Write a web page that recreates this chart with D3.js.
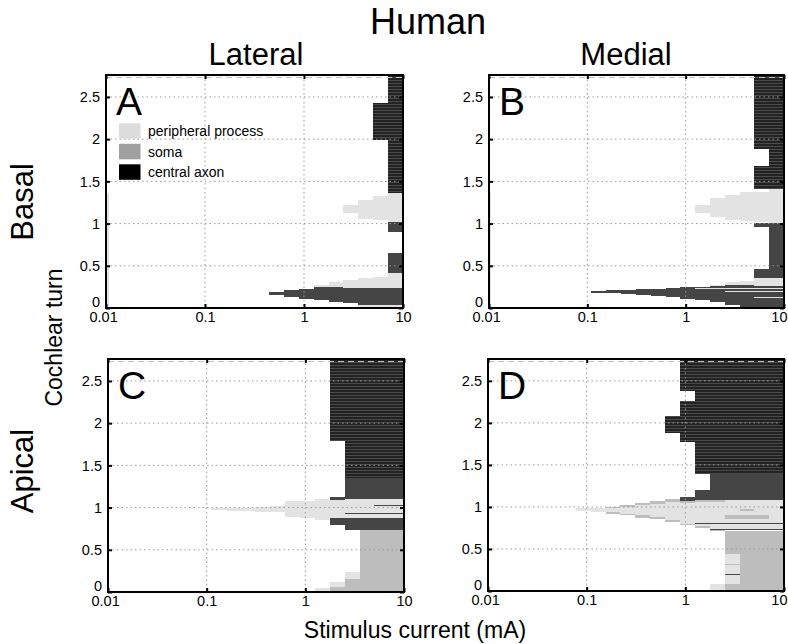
<!DOCTYPE html>
<html><head><meta charset="utf-8">
<script src="https://cdn.jsdelivr.net/npm/d3@7"></script>
<style>body{margin:0;background:#fff} svg{display:block} text{font-family:"Liberation Sans",Arial,Helvetica,sans-serif;fill:#000}</style>
</head><body><svg id="c" width="788" height="644"></svg>
<script>
// ---- data ----
const xTicks = [0.01, 0.1, 1, 10];
const yTicks = [0, 0.5, 1, 1.5, 2, 2.5];
const yMax = 2.76;
const legendLabels = ["peripheral process", "soma", "central axon"];
const legendSites = ["P", "S", "K0"];
const panelLetters = ["A", "B", "C", "D"];
// regions: [site, current from (mA), current to (mA), turn from, turn to]
// P = peripheral process, S = soma, A = central axon, K = central axon (dense)
const panelA = [
  ["K", 7.07, 10, 1.357, 2.76],
  ["K", 5, 7.07, 1.99, 2.43],
  ["P", 7.07, 10, 1.02, 1.357],
  ["P", 5, 7.07, 1.04, 1.33],
  ["P", 3.54, 5, 1.06, 1.28],
  ["P", 2.5, 3.54, 1.12, 1.22],
  ["A", 7.07, 10, 0.90, 1.02],
  ["A", 7.07, 10, 0.41, 0.65],
  ["P", 7.07, 10, 0.23, 0.41],
  ["P", 5, 7.07, 0.23, 0.363],
  ["P", 3.54, 5, 0.233, 0.351],
  ["P", 2.5, 3.54, 0.233, 0.331],
  ["P", 1.77, 2.5, 0.24, 0.304],
  ["P", 1.25, 1.77, 0.245, 0.272],
  ["A", 0.44, 0.625, 0.154, 0.193],
  ["A", 0.625, 0.88, 0.134, 0.213],
  ["A", 0.88, 1.25, 0.106, 0.225],
  ["A", 1.25, 1.77, 0.095, 0.245],
  ["A", 1.77, 2.5, 0.067, 0.245],
  ["A", 2.5, 3.54, 0.055, 0.233],
  ["A", 3.54, 10, 0.035, 0.233],
  ["P", 3.54, 10, 0.008, 0.035],
  ["A", 5, 10, 0, 0.01],
  ["P", 0.01, 3.54, 0, 0.012],
  ["P", 0.01, 0.0106, 0, 1.36]
];
const panelB = [
  ["K", 5, 10, 1.882, 2.76],
  ["K", 7.07, 10, 1.684, 1.882],
  ["K", 5, 10, 1.408, 1.684],
  ["P", 7.07, 10, 1.002, 1.408],
  ["P", 5, 7.07, 1.021, 1.377],
  ["P", 3.54, 5, 1.033, 1.369],
  ["P", 2.5, 3.54, 1.041, 1.337],
  ["P", 1.77, 2.5, 1.081, 1.298],
  ["P", 1.25, 1.77, 1.12, 1.219],
  ["A", 5, 7.07, 0.962, 1.002],
  ["A", 7.07, 10, 0.462, 1.002],
  ["A", 5, 10, 0.351, 0.462],
  ["P", 7.07, 10, 0.26, 0.351],
  ["P", 5, 7.07, 0.26, 0.351],
  ["P", 3.54, 5, 0.27, 0.323],
  ["P", 2.5, 3.54, 0.272, 0.304],
  ["P", 1.77, 2.5, 0.26, 0.272],
  ["A", 0.11, 0.156, 0.181, 0.205],
  ["A", 0.156, 0.22, 0.174, 0.213],
  ["A", 0.22, 0.31, 0.166, 0.217],
  ["A", 0.31, 0.44, 0.154, 0.221],
  ["A", 0.44, 0.625, 0.142, 0.225],
  ["A", 0.625, 0.88, 0.126, 0.233],
  ["A", 0.88, 1.25, 0.110, 0.245],
  ["A", 1.25, 1.77, 0.095, 0.252],
  ["A", 1.77, 2.5, 0.067, 0.260],
  ["A", 2.5, 3.54, 0.035, 0.272],
  ["A", 3.54, 5, 0.008, 0.27],
  ["A", 5, 10, 0.008, 0.26],
  ["P", 1.25, 10, 0.225, 0.232],
  ["P", 2.5, 10, 0.19, 0.197],
  ["P", 5, 10, 0.12, 0.127],
  ["P", 0.01, 5, 0, 0.012],
  ["A", 5, 10, 0, 0.012],
  ["P", 0.01, 0.0106, 0, 1.38]
];
const panelC = [
  ["K", 1.77, 10, 1.791, 2.76],
  ["K", 2.5, 10, 1.35, 1.791],
  ["A", 2.5, 10, 1.103, 1.35],
  ["A", 1.77, 2.5, 1.091, 1.131],
  ["P", 2.5, 10, 0.874, 1.103],
  ["A", 5, 10, 1.028, 1.034],
  ["A", 2.5, 10, 0.930, 0.936],
  ["A", 2.5, 10, 0.735, 0.874],
  ["A", 1.77, 2.5, 0.795, 0.874],
  ["P", 1.77, 2.5, 0.874, 1.091],
  ["P", 0.11, 0.156, 0.971, 0.991],
  ["P", 0.156, 0.22, 0.965, 0.998],
  ["P", 0.22, 0.31, 0.961, 1.0],
  ["P", 0.31, 0.44, 0.953, 1.012],
  ["P", 0.44, 0.625, 0.945, 1.024],
  ["P", 0.625, 0.88, 0.893, 1.079],
  ["P", 0.88, 1.25, 0.882, 1.083],
  ["P", 1.25, 1.77, 0.854, 1.099],
  ["S", 3.54, 10, 0, 0.735],
  ["P", 2.5, 3.54, 0.15, 0.241],
  ["S", 2.5, 3.54, 0, 0.15],
  ["P", 1.77, 2.5, 0.063, 0.122],
  ["S", 1.77, 2.5, 0, 0.063],
  ["P", 1.25, 1.77, 0, 0.044],
  ["P", 0.01, 1.25, 0, 0.012]
];
const panelD = [
  ["K", 0.88, 10, 2.384, 2.76],
  ["K", 1.25, 10, 2.266, 2.384],
  ["K", 0.88, 10, 2.080, 2.266],
  ["K", 0.625, 10, 1.882, 2.080],
  ["K", 0.88, 10, 1.775, 1.882],
  ["K", 1.25, 10, 1.388, 1.775],
  ["A", 1.77, 10, 1.07, 1.388],
  ["A", 1.25, 1.77, 1.079, 1.198],
  ["A", 0.88, 1.25, 1.071, 1.119],
  ["P", 0.078, 0.11, 0.953, 0.985],
  ["P", 0.11, 0.156, 0.937, 0.992],
  ["S", 0.156, 0.22, 0.921, 1.004],
  ["S", 0.22, 0.31, 0.901, 1.024],
  ["S", 0.31, 0.44, 0.874, 1.044],
  ["S", 0.44, 0.625, 0.854, 1.071],
  ["S", 0.625, 0.88, 0.815, 1.099],
  ["S", 0.88, 1.25, 0.787, 1.071],
  ["S", 1.25, 1.77, 0.755, 1.079],
  ["S", 1.77, 2.5, 0.716, 1.079],
  ["P", 0.156, 0.22, 0.935, 0.99],
  ["P", 0.22, 0.31, 0.92, 1.005],
  ["P", 0.31, 0.44, 0.90, 1.02],
  ["P", 0.44, 0.625, 0.885, 1.04],
  ["P", 0.625, 0.88, 0.85, 1.06],
  ["P", 0.88, 1.25, 0.80, 1.05],
  ["P", 1.25, 1.77, 0.77, 1.06],
  ["P", 1.77, 2.5, 0.73, 1.06],
  ["P", 2.5, 10, 0.735, 1.079],
  ["S", 2.5, 7.07, 0.86, 0.90],
  ["S", 3.54, 5, 0.95, 0.97],
  ["A", 0.88, 10, 1.02, 1.027],
  ["A", 1.77, 10, 0.988, 0.993],
  ["A", 1.25, 10, 0.80, 0.807],
  ["A", 1.77, 10, 0.732, 0.739],
  ["S", 2.5, 10, 0, 0.716],
  ["P", 2.5, 3.54, 0.083, 0.439],
  ["S", 2.5, 3.54, 0.375, 0.385],
  ["S", 2.5, 3.54, 0.315, 0.325],
  ["A", 2.5, 3.54, 0.197, 0.203],
  ["P", 1.77, 2.5, 0, 0.083],
  ["P", 0.01, 1.77, 0, 0.012]
];
const panels = [panelA, panelB, panelC, panelD];

// ---- styling / layout ----
const siteFill = {P: "#e3e3e3", S: "#bdbdbd", A: "#454545", K: "url(#axon)"};
const legendFill = {P: "#dcdcdc", S: "#a0a0a0", K0: "#000"};
const boxes = [
  {x0: 106, x1: 403, y0: 75, y1: 308},
  {x0: 489, x1: 784, y0: 75, y1: 308},
  {x0: 108, x1: 404, y0: 359, y1: 592},
  {x0: 488, x1: 784, y0: 359, y1: 591}
];
const FONT = '"Liberation Sans", Arial, Helvetica, sans-serif';
const svg = d3.select("#c");

const defs = svg.append("defs");
const pat = defs.append("pattern").attr("id", "axon").attr("patternUnits", "userSpaceOnUse")
  .attr("width", 8).attr("height", 3);
pat.append("rect").attr("width", 8).attr("height", 3).attr("fill", "#222");
pat.append("rect").attr("y", 2).attr("width", 8).attr("height", 1).attr("fill", "#4a4a4a");

const fmt = d => d === 0 ? "0" : String(d);

panels.forEach((data, i) => {
  const b = boxes[i];
  const x = d3.scaleLog().domain([0.01, 10]).range([b.x0, b.x1]);
  const y = d3.scaleLinear().domain([0, yMax]).range([b.y1, b.y0]);
  const g = svg.append("g");
  const cid = "clip" + i;
  defs.append("clipPath").attr("id", cid).append("rect")
    .attr("x", b.x0).attr("y", b.y0).attr("width", b.x1 - b.x0).attr("height", b.y1 - b.y0);
  const marks = g.append("g").attr("clip-path", `url(#${cid})`);
  marks.selectAll("rect").data(data).join("rect")
    .attr("x", d => x(d[1]))
    .attr("width", d => Math.max(0.8, x(d[2]) - x(d[1])))
    .attr("y", d => y(d[4]))
    .attr("height", d => Math.max(0.8, y(d[3]) - y(d[4])))
    .attr("fill", d => siteFill[d[0]])
    .attr("shape-rendering", "crispEdges");

  // grid
  const grid = g.append("g").attr("stroke", "#9a9a9a").attr("stroke-width", 1)
    .attr("stroke-dasharray", "1.5,3").attr("fill", "none");
  yTicks.filter(v => v > 0).forEach(v => {
    grid.append("line").attr("x1", b.x0).attr("x2", b.x1).attr("y1", y(v)).attr("y2", y(v));
  });
  [0.1, 1].forEach(v => {
    grid.append("line").attr("x1", x(v)).attr("x2", x(v)).attr("y1", b.y0).attr("y2", b.y1);
  });
  g.append("line").attr("x1", b.x0).attr("x2", b.x1).attr("y1", b.y0 + 2.5).attr("y2", b.y0 + 2.5)
    .attr("stroke", "#c4c4c4").attr("stroke-dasharray", "6,4");

  // axes
  const ax = d3.axisBottom(x).tickValues(xTicks).tickFormat(fmt).tickSize(-4).tickPadding(4);
  const ay = d3.axisLeft(y).tickValues(yTicks).tickFormat(fmt).tickSize(-4).tickPadding(6);
  const axT = d3.axisTop(x).tickValues(xTicks).tickFormat("").tickSize(-4);
  const ayR = d3.axisRight(y).tickValues(yTicks).tickFormat("").tickSize(-4);
  const gx = g.append("g").attr("transform", `translate(0,${b.y1})`).call(ax);
  const gy = g.append("g").attr("transform", `translate(${b.x0},0)`).call(ay);
  const gt = g.append("g").attr("transform", `translate(0,${b.y0})`).call(axT);
  const gr = g.append("g").attr("transform", `translate(${b.x1},0)`).call(ayR);
  [gx, gy, gt, gr].forEach(a => {
    a.select(".domain").remove();
    a.selectAll(".tick line").attr("stroke", "#000").attr("stroke-width", 2);
    a.selectAll("text").attr("font-size", 14.5).attr("font-family", FONT).attr("fill", "#000");
  });
  gy.selectAll(".tick").filter(d => d === 0).select("text").attr("dy", "-0.12em");
  gx.selectAll(".tick").filter(d => d === 0.01).select("text").attr("dx", "-0.2em");
  if (b.x1 > 700) {
    gx.selectAll(".tick").filter(d => d === 10).select("text")
      .attr("text-anchor", "end").attr("dx", 787 - b.x1);
  }

  g.append("rect").attr("x", b.x0).attr("y", b.y0).attr("width", b.x1 - b.x0).attr("height", b.y1 - b.y0)
    .attr("fill", "none").attr("stroke", "#000").attr("stroke-width", 2);

  g.append("text").attr("x", b.x0 + 10).attr("y", b.y0 + 40).attr("font-size", 39)
    .text(panelLetters[i]);
});

// legend in panel A
const lg = svg.append("g");
legendLabels.forEach((lab, k) => {
  lg.append("rect").attr("x", 119).attr("y", 123.3 + k * 20.5).attr("width", 21.5).attr("height", 15.5)
    .attr("fill", legendFill[legendSites[k]]);
  lg.append("text").attr("x", 148).attr("y", 136 + k * 20.5).attr("font-size", 14).text(lab);
});

// titles
svg.append("text").attr("x", 428).attr("y", 34).attr("text-anchor", "middle").attr("font-size", 36).text("Human");
svg.append("text").attr("x", 256).attr("y", 65).attr("text-anchor", "middle").attr("font-size", 31).text("Lateral");
svg.append("text").attr("x", 626).attr("y", 65).attr("text-anchor", "middle").attr("font-size", 31).text("Medial");
svg.append("text").attr("transform", "translate(33,202) rotate(-90)").attr("text-anchor", "middle").attr("font-size", 31).text("Basal");
svg.append("text").attr("transform", "translate(33,471) rotate(-90)").attr("text-anchor", "middle").attr("font-size", 31).text("Apical");
svg.append("text").attr("transform", "translate(62,337.5) rotate(-90)").attr("text-anchor", "middle").attr("font-size", 23).text("Cochlear turn");
svg.append("text").attr("x", 415).attr("y", 638).attr("text-anchor", "middle").attr("font-size", 23).text("Stimulus current (mA)");
</script></body></html>
